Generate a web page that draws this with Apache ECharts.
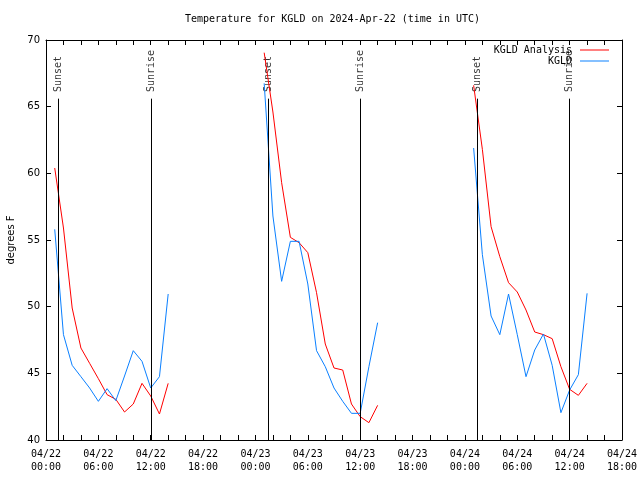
<!DOCTYPE html>
<html>
<head>
<meta charset="utf-8">
<script src="https://cdn.jsdelivr.net/npm/echarts@6/dist/echarts.min.js"></script>
<style>html,body{margin:0;padding:0;background:#fff}#c{width:640px;height:480px}</style>
</head>
<body>
<div id="c"></div>
<script>
// Hours since 2024-04-22 00:00 UTC
const hours1 = [1,2,3,4,5,6,7,8,9,10,11,12,13,14];
const hours2 = [25,26,27,28,29,30,31,32,33,34,35,36,37,38];
const hours3 = [49,50,51,52,53,54,55,56,57,58,59,60,61,62];

const analysis1 = [60.4,55.9,49.9,46.9,45.75,44.6,43.4,43.05,42.1,42.7,44.25,43.3,41.95,44.25];
const analysis2 = [69.05,64.6,59.3,55.2,54.8,54.05,51.05,47.2,45.4,45.25,42.7,41.75,41.3,42.6];
const analysis3 = [66.6,61.8,56.0,53.75,51.8,51.1,49.75,48.1,47.9,47.6,45.5,43.8,43.35,44.25];

const obs1 = [55.8,47.9,45.6,44.75,43.9,42.9,43.85,42.95,44.8,46.7,45.9,43.9,44.75,50.95];
const obs2 = [66.75,56.8,51.9,54.9,54.9,51.7,46.7,45.5,43.9,42.9,42.0,42.0,45.5,48.8];
const obs3 = [61.9,53.9,49.3,47.9,50.95,47.9,44.75,46.75,47.95,45.6,42.05,43.75,44.9,51.0];

const sunsetHours = [1.455, 25.47, 49.42];
const sunriseHours = [12.07, 36.01, 59.96];

const xTickLabels = ['04/22\n00:00','04/22\n06:00','04/22\n12:00','04/22\n18:00',
  '04/23\n00:00','04/23\n06:00','04/23\n12:00','04/23\n18:00',
  '04/24\n00:00','04/24\n06:00','04/24\n12:00','04/24\n18:00'];

function joinSegments(hs, vs) {
  const out = [];
  hs.forEach((h, i) => {
    if (i > 0) out.push([ (hs[i-1][hs[i-1].length-1] + h[0]) / 2, null ]);
    h.forEach((x, j) => out.push([x, vs[i][j]]));
  });
  return out;
}

const analysisData = joinSegments([hours1,hours2,hours3],[analysis1,analysis2,analysis3]);
const obsData = joinSegments([hours1,hours2,hours3],[obs1,obs2,obs3]);

const MONO = '"DejaVu Sans Mono", "Liberation Mono", monospace';
const SANS = '"DejaVu Sans", sans-serif';
const YTOP_LINE = 65.6;
const YLABEL = 66.1;

const sunLabels = [];
sunsetHours.forEach(h => sunLabels.push([h, YLABEL, 'Sunset']));
sunriseHours.forEach(h => sunLabels.push([h, YLABEL, 'Sunrise']));
const sunLines = sunsetHours.concat(sunriseHours).map(h => [{coord:[h,40]},{coord:[h,YTOP_LINE]}]);

const chart = echarts.init(document.getElementById('c'), null, {renderer:'canvas'});
const baseX = {
  type:'value', min:0, max:66, interval:6,
  axisLine:{show:true, onZero:false, lineStyle:{color:'#000', width:1}},
  axisTick:{show:true, inside:true, length:5, lineStyle:{color:'#000'}},
  minorTick:{show:true, splitNumber:3, length:5, lineStyle:{color:'#000'}},
  splitLine:{show:false}
};
const baseY = {
  type:'value', min:40, max:70, interval:5,
  axisLine:{show:true, onZero:false, lineStyle:{color:'#000', width:1}},
  axisTick:{show:true, inside:true, length:5, lineStyle:{color:'#000'}},
  splitLine:{show:false}
};
chart.setOption({
  animation:false,
  backgroundColor:'#fff',
  title:{
    text:'Temperature for KGLD on 2024-Apr-22 (time in UTC)',
    left:185, top:14, padding:0,
    textStyle:{fontFamily:MONO, fontSize:10, fontWeight:'normal', color:'#000'}
  },
  legend:[
    {data:['KGLD Analysis'], right:31, top:45, padding:0, align:'right', orient:'vertical',
     icon:'rect', itemWidth:29, itemHeight:1,
     textStyle:{fontFamily:MONO, fontSize:10, color:'#000', padding:[0,3,0,0]}},
    {data:['KGLD'], right:31, top:56, padding:0, align:'right', orient:'vertical',
     icon:'rect', itemWidth:29, itemHeight:1,
     textStyle:{fontFamily:MONO, fontSize:10, color:'#000', padding:[0,3,0,0]}}
  ],
  grid:{left:46, right:18, top:40, bottom:40, containLabel:false, outerBoundsMode:'none'},
  xAxis:[
    Object.assign({}, baseX, {position:'bottom',
      axisLabel:{show:true, margin:8, fontFamily:MONO, fontSize:10, color:'#000', lineHeight:13,
        formatter:(v)=>xTickLabels[Math.round(v/6)] || ''}}),
    Object.assign({}, baseX, {position:'top', axisLabel:{show:false}})
  ],
  yAxis:[
    Object.assign({}, baseY, {position:'left', name:'degrees F', nameLocation:'middle', nameGap:30, nameRotate:90,
      nameTextStyle:{fontFamily:SANS, fontSize:10, color:'#000'},
      axisLabel:{show:true, margin:6, fontFamily:SANS, fontSize:10, color:'#000'}}),
    Object.assign({}, baseY, {position:'right', axisLabel:{show:false}})
  ],
  series:[
    {
      name:'sun', type:'scatter', data:sunLabels, symbolSize:0, silent:true,
      label:{show:true, position:'inside', rotate:90, align:'left', verticalAlign:'middle',
        fontFamily:MONO, fontSize:10, color:'#000', formatter:(p)=>p.data[2]},
      markLine:{silent:true, symbol:['none','none'], label:{show:false},
        lineStyle:{color:'#000', width:1, type:'solid'}, data:sunLines}
    },
    {name:'KGLD Analysis', type:'line', data:analysisData, showSymbol:false, symbol:'none',
      connectNulls:false, lineStyle:{color:'#ff0000', width:1}, itemStyle:{color:'#ff0000'}},
    {name:'KGLD', type:'line', data:obsData, showSymbol:false, symbol:'none',
      connectNulls:false, lineStyle:{color:'#0a80ff', width:1}, itemStyle:{color:'#0a80ff'}}
  ]
});
</script>
</body>
</html>
